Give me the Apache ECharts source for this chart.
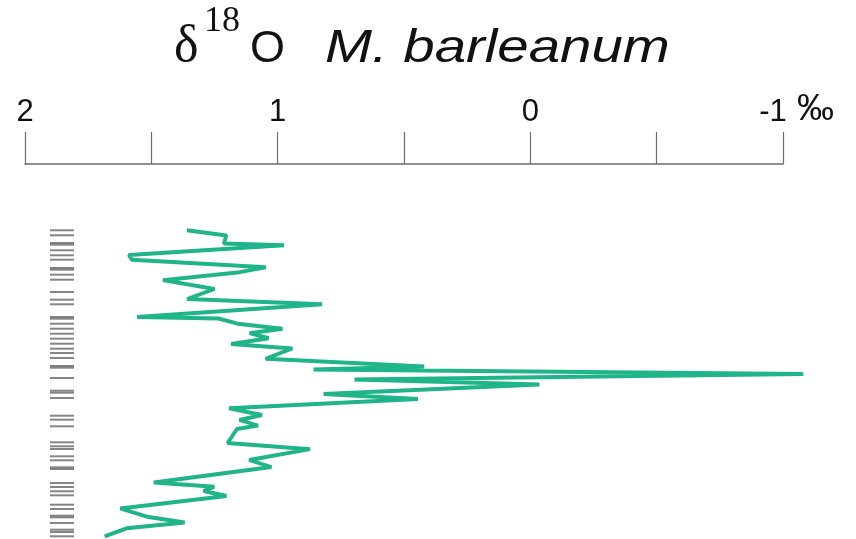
<!DOCTYPE html>
<html><head><meta charset="utf-8">
<script src="https://cdn.jsdelivr.net/npm/echarts@6/dist/echarts.min.js"></script>
<style>html,body{margin:0;padding:0;background:#fff}#c{width:856px;height:539px}</style>
</head><body><div id="c"></div>
<script>
// Sample depth (arbitrary depth units, downward) and d18O values (per mil)
const depth = [8.3, 13.5, 21.5, 23.2, 33, 37.8, 45.3, 50.2, 58.2, 67, 77, 82.2, 95, 96.5, 101.7, 106.7, 111.2, 116.2, 122, 126.5, 136.8, 144.5, 147.5, 152, 157.5, 162.5, 172, 177, 186.3, 193, 198, 203.5, 207, 221, 227.2, 238, 245, 260.5, 264.7, 269, 274, 286.5, 294.7, 300.5, 306.3, 314.3];
const d18O = [1.359, 1.203, 1.213, 0.975, 1.589, 1.577, 1.047, 1.151, 1.454, 1.250, 1.358, 0.824, 1.556, 1.234, 1.159, 0.981, 1.111, 1.036, 1.184, 0.942, 1.048, 0.420, 0.858, -1.080, 0.696, -0.036, 0.818, 0.445, 1.192, 1.062, 1.151, 1.078, 1.161, 1.198, 0.872, 1.113, 1.025, 1.490, 1.251, 1.293, 1.203, 1.623, 1.517, 1.368, 1.598, 1.685];
// Sample positions shown as tick marks on the left
const sampleDepths = [8.3, 13.3, 21, 22.7, 28.3, 33.3, 37.7, 46, 47.7, 52.7, 57.7, 70, 77.7, 82.3, 95, 96.7, 101.7, 106.7, 111.7, 116.7, 121.7, 126.7, 131, 136, 144, 145.7, 156, 168.7, 170.7, 176, 193.7, 197.7, 204.3, 220.3, 224.3, 227, 234.3, 238.3, 245.3, 247, 261, 265, 269.3, 273.3, 282.7, 287, 293.7, 295.3, 301, 307.7, 310, 314.3];
const xLabelValues = [2, 1, 0, -1];
const xMin = -1, xMax = 2, xStep = 0.5;
const lineXMin = -1.2;           // plotting range of the data layer (peak goes past -1)
const depthMax = 317;

const lineData = depth.map((d, i) => [d18O[i], d]);
const tickData = sampleDepths.map(d => [0.5, d]);

const axisW = 758;
const lineW = axisW * (xMax - lineXMin) / (xMax - xMin);

const chart = echarts.init(document.getElementById('c'));
chart.setOption({
  animation: false,
  backgroundColor: '#fff',
  grid: [
    {left: 25, width: axisW, top: 164, bottom: 0},
    {left: 25, width: lineW, top: 222, bottom: 0},
    {left: 50, width: 24, top: 222, bottom: 0}
  ],
  xAxis: [{
    gridIndex: 0, type: 'value', min: xMin, max: xMax, interval: xStep, inverse: true,
    position: 'top',
    axisLine: {show: true, onZero: false, lineStyle: {color: '#6b6b6b', width: 1.5}},
    axisTick: {show: true, length: 32, lineStyle: {color: '#6b6b6b', width: 1.2}},
    splitLine: {show: false},
    axisLabel: {
      margin: 36, fontSize: 31, color: '#111', fontFamily: 'Liberation Sans',
      formatter: v => xLabelValues.includes(v) ? (v === -1 ? '{m|-1}' : String(v)) : '',
      rich: {m: {fontSize: 31, color: '#111', fontFamily: 'Liberation Sans', padding: [0, 20, 0, 0]}}
    }
  }, {
    gridIndex: 1, type: 'value', min: lineXMin, max: xMax, inverse: true, show: false
  }, {
    gridIndex: 2, type: 'value', min: 0, max: 1, show: false
  }],
  yAxis: [{
    gridIndex: 0, type: 'value', min: 0, max: 1, show: false
  }, {
    gridIndex: 1, type: 'value', min: 0, max: depthMax, inverse: true, show: false
  }, {
    gridIndex: 2, type: 'value', min: 0, max: depthMax, inverse: true, show: false
  }],
  graphic: [
    {type: 'text', x: 174, y: 73, style: {text: 'δ', font: '52px "Liberation Serif"', fill: '#111', textVerticalAlign: 'bottom'}},
    {type: 'text', x: 204, y: 40, style: {text: '18', font: '36px "Liberation Serif"', fill: '#111', textVerticalAlign: 'bottom'}},
    {type: 'text', x: 250, y: 72, style: {text: 'O', font: '45px "Liberation Sans"', fill: '#111', textVerticalAlign: 'bottom'}},
    {type: 'text', x: 325, y: 72.5, scaleX: 1.2, style: {text: 'M. barleanum', font: 'italic 47px "Liberation Sans"', fill: '#111', textVerticalAlign: 'bottom'}},
    {type: 'text', x: 797, y: 128, style: {text: '‰', font: '37px "Liberation Sans"', fill: '#111', textVerticalAlign: 'bottom'}}
  ],
  series: [{
    type: 'line', xAxisIndex: 1, yAxisIndex: 1, data: lineData,
    symbol: 'none', smooth: false,
    lineStyle: {color: '#1fb489', width: 3.9},
    clip: false
  }, {
    type: 'scatter', xAxisIndex: 2, yAxisIndex: 2, data: tickData,
    symbol: 'rect', symbolSize: [24, 2],
    itemStyle: {color: '#666'}
  }]
});
</script>
</body></html>
